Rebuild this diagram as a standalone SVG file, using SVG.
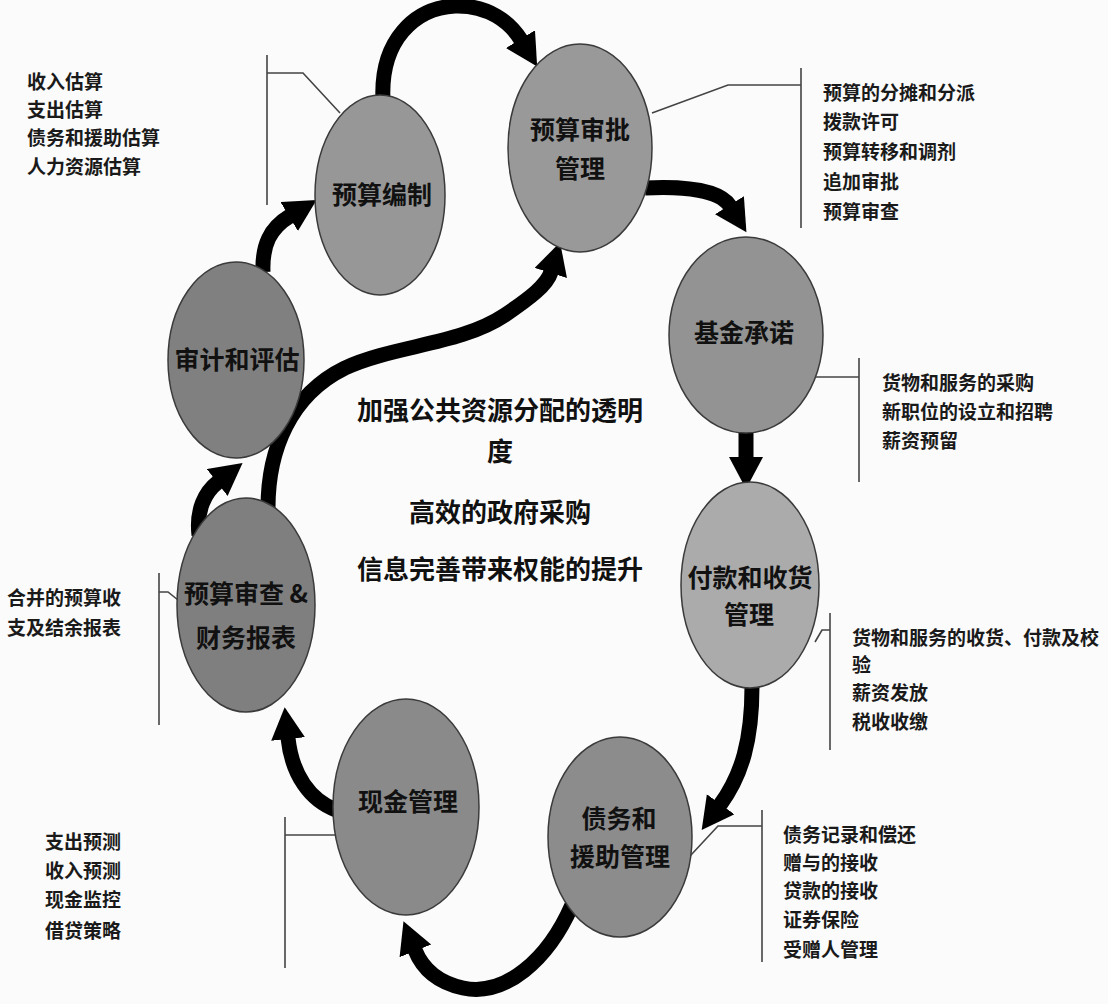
<svg xmlns="http://www.w3.org/2000/svg" width="1108" height="1004" viewBox="0 0 1108 1004">
<style>
.node{stroke:#3a3a3a;stroke-width:1.5}
.lbl{font-family:"Noto Sans CJK SC","Noto Sans",sans-serif;font-weight:700;font-size:25px;fill:#111;text-anchor:middle}
.side{font-family:"Noto Sans CJK SC","Noto Sans",sans-serif;font-weight:700;font-size:19px;fill:#1a1a1a}
.ctr{font-family:"Noto Sans CJK SC","Noto Sans",sans-serif;font-weight:700;font-size:26px;fill:#111;text-anchor:middle}
.call{fill:none;stroke:#444;stroke-width:1.6}
.arr{fill:none;stroke:#000;stroke-width:15;marker-end:url(#head)}
</style>
<defs>
<marker id="head" markerUnits="userSpaceOnUse" markerWidth="36" markerHeight="36" refX="1" refY="17" orient="auto">
<path d="M0,0 L32,17 L0,34 Z" fill="#000"/>
</marker>
</defs>
<rect width="1108" height="1004" fill="#fbfbfb"/>

<g id="connectors">
<path class="arr" d="M263,272 C262,245 270,228 290,216"/>
<path class="arr" d="M383,100 C380,40 415,8 455,6 C488,5 510,22 521,40"/>
<path class="arr" d="M645,188 C685,186 720,190 730,206"/>
<path class="arr" d="M746,430 L746,458"/>
<path class="arr" d="M752,686 C752,740 742,775 720,805"/>
<path class="arr" d="M572,905 C548,960 505,997 463,988 C440,983 423,970 415,950"/>
<path class="arr" d="M336,810 C310,800 292,775 288,738"/>
<path class="arr" d="M199,535 C196,510 205,492 218,482"/>
<path class="arr" d="M268,508 C268,450 290,395 345,368 C395,345 460,345 505,315 C530,298 547,285 551,272"/>
</g>

<g id="callouts">
<line class="call" x1="267" y1="55" x2="267" y2="205"/>
<polyline class="call" points="267,73 303,73 340,113"/>
<line class="call" x1="801" y1="68" x2="801" y2="228"/>
<polyline class="call" points="801,85 728,85 652,113"/>
<line class="call" x1="859" y1="358" x2="859" y2="482"/>
<polyline class="call" points="815,377 859,377"/>
<line class="call" x1="830" y1="613" x2="830" y2="750"/>
<polyline class="call" points="815,642 822,630 830,630"/>
<line class="call" x1="762" y1="810" x2="762" y2="962"/>
<polyline class="call" points="762,826 718,826 677,870"/>
<line class="call" x1="159" y1="573" x2="159" y2="725"/>
<polyline class="call" points="159,592 168,592 178,600"/>
<line class="call" x1="285" y1="817" x2="285" y2="968"/>
<polyline class="call" points="285,835 346,835"/>
</g>

<g id="n-bianzhi">
<ellipse class="node" cx="380" cy="195" rx="65" ry="100" fill="#979797"/>
<text class="lbl" x="382" y="204">预算编制</text>
</g>
<g id="n-shenpi">
<ellipse class="node" cx="580" cy="148" rx="72" ry="104" fill="#999999"/>
<text class="lbl" x="580" y="139">预算审批</text>
<text class="lbl" x="580" y="178">管理</text>
</g>
<g id="n-jijin">
<ellipse class="node" cx="746" cy="335" rx="77" ry="98" fill="#939393"/>
<text class="lbl" x="744" y="342">基金承诺</text>
</g>
<g id="n-fukuan">
<ellipse class="node" cx="750" cy="585" rx="69" ry="103" fill="#ababab"/>
<text class="lbl" x="750" y="587">付款和收货</text>
<text class="lbl" x="749" y="624">管理</text>
</g>
<g id="n-zhaiwu">
<ellipse class="node" cx="620" cy="837" rx="72" ry="100" fill="#8c8c8c"/>
<text class="lbl" x="619" y="828">债务和</text>
<text class="lbl" x="620" y="866">援助管理</text>
</g>
<g id="n-xianjin">
<ellipse class="node" cx="406" cy="807" rx="73" ry="108" fill="#8a8a8a"/>
<text class="lbl" x="408" y="811">现金管理</text>
</g>
<g id="n-shencha">
<ellipse class="node" cx="246" cy="605" rx="69" ry="107" fill="#7f7f7f"/>
<text class="lbl" x="246" y="603">预算审查 &amp;</text>
<text class="lbl" x="246" y="647">财务报表</text>
</g>
<g id="n-shenji">
<ellipse class="node" cx="236" cy="360" rx="68" ry="98" fill="#808080"/>
<text class="lbl" x="237" y="369">审计和评估</text>
</g>

<g id="side-texts">
<text class="side" x="27" y="89">收入估算</text>
<text class="side" x="27" y="117">支出估算</text>
<text class="side" x="27" y="145">债务和援助估算</text>
<text class="side" x="27" y="174">人力资源估算</text>

<text class="side" x="823" y="100">预算的分摊和分派</text>
<text class="side" x="823" y="129">拨款许可</text>
<text class="side" x="823" y="159">预算转移和调剂</text>
<text class="side" x="823" y="189">追加审批</text>
<text class="side" x="823" y="219">预算审查</text>

<text class="side" x="882" y="390">货物和服务的采购</text>
<text class="side" x="882" y="419">新职位的设立和招聘</text>
<text class="side" x="882" y="448">薪资预留</text>

<text class="side" x="852" y="645">货物和服务的收货、付款及校</text>
<text class="side" x="852" y="672">验</text>
<text class="side" x="852" y="700">薪资发放</text>
<text class="side" x="852" y="729">税收收缴</text>

<text class="side" x="783" y="842">债务记录和偿还</text>
<text class="side" x="783" y="870">赠与的接收</text>
<text class="side" x="783" y="898">贷款的接收</text>
<text class="side" x="783" y="927">证券保险</text>
<text class="side" x="783" y="957">受赠人管理</text>

<text class="side" x="7" y="605">合并的预算收</text>
<text class="side" x="7" y="635">支及结余报表</text>

<text class="side" x="45" y="849">支出预测</text>
<text class="side" x="45" y="878">收入预测</text>
<text class="side" x="45" y="907">现金监控</text>
<text class="side" x="45" y="938">借贷策略</text>
</g>

<g id="center-text">
<text class="ctr" x="500" y="420">加强公共资源分配的透明</text>
<text class="ctr" x="500" y="461">度</text>
<text class="ctr" x="500" y="522">高效的政府采购</text>
<text class="ctr" x="500" y="579">信息完善带来权能的提升</text>
</g>
</svg>
